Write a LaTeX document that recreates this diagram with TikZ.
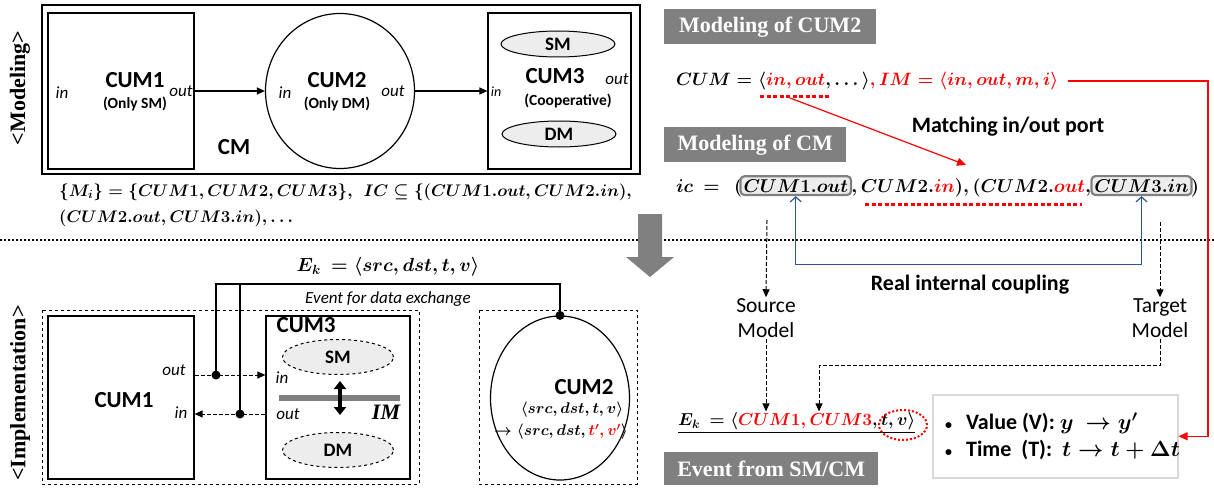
\RequirePackage{fix-cm}
\documentclass[tikz,border=0pt]{standalone}
\usepackage{amsmath}
\usepackage{fontspec}
\setmainfont{Carlito}
\newfontfamily\tnr{Liberation Serif}
\usepackage{xcolor}
\usepackage{tikz}
\usetikzlibrary{positioning, shapes, calc, arrows.meta}
\definecolor{boxgray}{rgb}{0.5, 0.5, 0.5}
\definecolor{smgray}{rgb}{0.93, 0.93, 0.93}
\definecolor{cplblue}{rgb}{0.18, 0.33, 0.59}

\begin{document}
\begin{tikzpicture}[x=1pt, y=-1pt, every node/.style={inner sep=1pt}]
		\tikzstyle{cum}=[draw=black, line width=1.2pt, minimum width=146, minimum height=156]
		\tikzstyle{cumell}=[draw=black, line width=1.2pt, ellipse]
		\tikzstyle{subm}=[draw=black, line width=1pt, ellipse, fill=smgray, minimum width=114, minimum height=26, font=\bfseries\fontsize{19}{22}\selectfont]
		\tikzstyle{title}=[font=\bfseries\fontsize{23}{26}\selectfont]
		\tikzstyle{sub}=[font=\bfseries\fontsize{15.5}{19}\selectfont]
		\tikzstyle{port}=[font=\itshape\fontsize{17}{20}\selectfont]
		\tikzstyle{mathtxt}=[font=\fontsize{17.9}{22}\selectfont\boldmath]
		\tikzstyle{icmath}=[font=\fontsize{18.6}{22}\selectfont\boldmath]
		\tikzstyle{hdr}=[fill=boxgray, text=white, anchor=north west, minimum height=35, font=\tnr\bfseries\fontsize{22}{26}\selectfont]
		\tikzstyle{lbl}=[font=\bfseries\fontsize{22}{26}\selectfont]
		\tikzstyle{bul}=[font=\bfseries\fontsize{22}{26}\selectfont\boldmath, anchor=west]
		\tikzstyle{plain}=[font=\fontsize{21.5}{25}\selectfont, align=center]
		\tikzstyle{icbox}=[draw=boxgray, line width=2.2pt, fill=smgray, rounded corners=4pt, inner sep=3pt]
		\tikzstyle{arr}=[line width=1.2pt, -{Triangle[length=8pt, width=7pt]}]
		\tikzstyle{dasharr}=[line width=1pt, dash pattern=on 4pt off 2pt, -{Triangle[length=8pt, width=7pt]}]
		\tikzstyle{reddots}=[red, line width=3pt, dash pattern=on 4pt off 2.5pt]
		
		\useasboundingbox (0,0) rectangle (1214,487);
		
		%% <Modeling>
		\node[rotate=90, font=\tnr\bfseries\fontsize{22}{24}\selectfont] (L1) at (20,88) {<Modeling>};
		\draw[line width=1.5pt] (42,5) rectangle (640,174);
		
		\node[cum] (C1) at (121,91) {};
		\node[title] (C1t) at (135,80) {CUM1};
		\node[sub, below=7pt of C1t] {(Only SM)};
		\node[port] at (62,93) {in};
		\node[port] at (181,91) {out};
		
		\node[cumell, minimum width=149, minimum height=155] (C2) at (340,91) {};
		\node[title] (C2t) at (337,80) {CUM2};
		\node[sub, below=7pt of C2t] {(Only DM)};
		\node[port] at (285,93) {in};
		\node[port] at (393,91) {out};
		
		\node[cum, minimum width=143] (C3) at (559.5,91) {};
		\node[subm] (S1) at (558,44) {SM};
		\node[subm] (S2) at (559,134) {DM};
		\node[title] (C3t) at (555,76) {CUM3};
		\node[sub] at (568,101) {(Cooperative)};
		\node[port] at (617,79) {out};
		\node[port, font=\itshape\fontsize{14}{16}\selectfont] at (496,92) {in};
		
		\draw[arr] (C1) -- (C2);
		\draw[arr] (C2) -- (C3);
		\node[title] (CM) at (234,147) {CM};
		
		\node[mathtxt, font=\fontsize{16.8}{21}\selectfont\boldmath, anchor=west] (F1) at (58,192) {$\{M_i\} = \{CUM1, CUM2, CUM3\},\ \ IC \subseteq \{(CUM1.out, CUM2.in),$};
		\node[mathtxt, font=\fontsize{16.8}{21}\selectfont\boldmath, anchor=west] (F2) at (58,218) {$(CUM2.out, CUM3.in), \dots$};
		
		%% divider and arrow
		\draw[line width=2.2pt, dash pattern=on 2pt off 2pt] (0,240) -- (1214,240);
		\fill[boxgray] (638,214) -- (662,214) -- (662,257) -- (674,257) -- (650,277) -- (626,257) -- (638,257) -- cycle;
		
		%% <Implementation>
		\node[rotate=90, font=\tnr\bfseries\fontsize{22}{24}\selectfont] (L2) at (20,393) {<Implementation>};
		\draw[line width=1pt, dashed] (42,310) rectangle (419,484);
		\draw[line width=1pt, dashed] (479,310) rectangle (637,484);
		
		\node[cum, minimum height=163] (D1) at (121,397.5) {};
		\node[title] at (124,400) {CUM1};
		\node[cum, minimum width=144, minimum height=163] (D3) at (338,397.5) {};
		\node[title, anchor=north west] at ($(D3.north west)+(10,1)$) {CUM3};
		\node[subm, dashed, minimum width=111, minimum height=35] (E1) at (338,357) {SM};
		\node[subm, dashed, minimum width=111, minimum height=35] (E2) at (338,450) {DM};
		\draw[boxgray, line width=6pt] (279,398) -- (400,398);
		\draw[line width=3.5pt, {Triangle[length=8pt, width=12pt]}-{Triangle[length=8pt, width=12pt]}] (340,381) -- (340,415);
		\node[font=\tnr\bfseries\itshape\fontsize{22}{24}\selectfont] (IM) at (386,412) {IM};
		
		\node[port] at (174,370) {out};
		\node[port] at (181,413) {in};
		\node[port] at (282,378) {in};
		\node[port] at (288,414) {out};
		
		\coordinate (J1) at (216,375);
		\coordinate (J2) at (240,414);
		\coordinate (B) at (0,284);
		\draw[dasharr] (J1 -| D1.east) -- (J1 -| D3.west);
		\draw[dasharr] (J2 -| D3.west) -- (J2 -| D1.east);
		
		\node[cumell, minimum width=139, minimum height=164] (D2) at (560,398) {};
		\node[title] at (584,387) {CUM2};
		\node[font=\fontsize{15.5}{18}\selectfont\boldmath] at (572,410) {$\langle src, dst, t, v\rangle$};
		\node[font=\fontsize{15.5}{18}\selectfont\boldmath] at (561,432) {$\rightarrow\langle src, dst, {\color{red}t^{\prime}, v^{\prime}}\rangle$};
		
		\draw[line width=1.2pt] (J1) -- (J1 |- B) -- (B -| D2.north) -- (D2.north);
		\draw[line width=1.2pt] (J2) -- (J2 |- B);
		\fill (J1) circle (4.5);
		\fill (J2) circle (4.5);
		\fill (D2.north) circle (4.5);
		
		\node[mathtxt, font=\fontsize{19}{24}\selectfont\boldmath] (EK) at (388,267) {$E_k\ = \langle src, dst, t, v\rangle$};
		\node[port] at (388,299) {Event for data exchange};
		
		%% Modeling of CUM2
		\node[hdr, minimum width=212] (H1) at (664,9) {Modeling of CUM2};
		\node[mathtxt, anchor=west] (P1) at (675,81) {$CUM = \langle{\color{red}in, out}, \dots\rangle{\color{red}, IM = \langle in, out, m, i\rangle}$};
		\draw[reddots] (760,96) -- (830,96);
		\draw[red, line width=1.2pt, -{Triangle[length=9pt, width=8pt]}] (790,98) -- (966,165);
		\node[lbl] (MP) at (1008,127) {Matching in/out port};
		
		%% Modeling of CM
		\node[hdr, minimum width=182] (H2) at (664,127) {Modeling of CM};
		\node[icmath, anchor=base west] (I1) at (675,192) {$ic\ =\ \ ($};
		\node[icmath, icbox, base right=-4 of I1] (I2) {$CUM1.out$};
		\node[icmath, base right=-2 of I2] (I3) {$,CUM2.{\color{red}in}),(CUM2.{\color{red}out},$};
		\node[icmath, icbox, base right=-2 of I3] (I4) {$CUM3.in$};
		\node[icmath, base right=-3 of I4] (I5) {$)$};
		\draw[reddots] (865,204) -- (1082,204);
		
		\draw[cplblue, line width=1.2pt, {Straight Barb[length=5pt, width=11pt]}-{Straight Barb[length=5pt, width=11pt]}] (I2.south) -- ++(0,68) -| (I4.south);
		\node[lbl] (RC) at (970,285) {Real internal coupling};
		
		\node[plain] (SRC) at (766,318) {Source\\Model};
		\node[plain] (TGT) at (1160,318) {Target\\Model};
		\coordinate (S0) at (767,220);
		\coordinate (T0) at (1160,222);
		\coordinate (K2) at (819,0);
		\draw[dasharr] (S0) -- (SRC.north);
		\draw[dasharr] (T0) -- (TGT.north);
		
		%% Event from SM/CM
		\node[mathtxt, font=\fontsize{17.3}{21}\selectfont\boldmath, anchor=west] (K1) at (677,423) {$\underline{E_k\ = \langle{\color{red}CUM1, CUM3}, t, v\rangle}$};
		\node[draw=red, line width=2pt, dash pattern=on 2pt off 2pt, ellipse, minimum width=48, minimum height=30] (K3) at (903,425) {};
		\draw[dasharr] (SRC.south) -- (SRC.south |- K1.north);
		\draw[dasharr] (TGT.south) -- ++(0,27) -| (K2 |- K1.north);
		
		\node[draw=black!15, line width=1.5pt, fill=white, minimum width=245, minimum height=83, anchor=north west] (W) at (932,394) {};
		\node[bul] (V1) at ($(W.west)+(12,-13)$) {{\fontsize{14}{16}\selectfont\textbullet}\hspace{14pt}Value (V): $y\ \rightarrow y^{\prime}$};
		\node[bul] (V2) at ($(W.west)+(12,14)$) {{\fontsize{14}{16}\selectfont\textbullet}\hspace{14pt}Time\ \ (T): \ $t \rightarrow t + \Delta t$};
		\coordinate (R) at (1208,0);
		\coordinate (R0) at ($(P1.east)+(8,0)$);
		\draw[red, line width=1.2pt, -{Triangle[length=9pt, width=8pt]}] (R0) -- (R0 -| R) -- (R |- W.east) -- (W.east);
		
		\node[hdr, minimum width=214, minimum height=33] (H3) at (664,452) {Event from SM/CM};
		\end{tikzpicture}
\end{document}
